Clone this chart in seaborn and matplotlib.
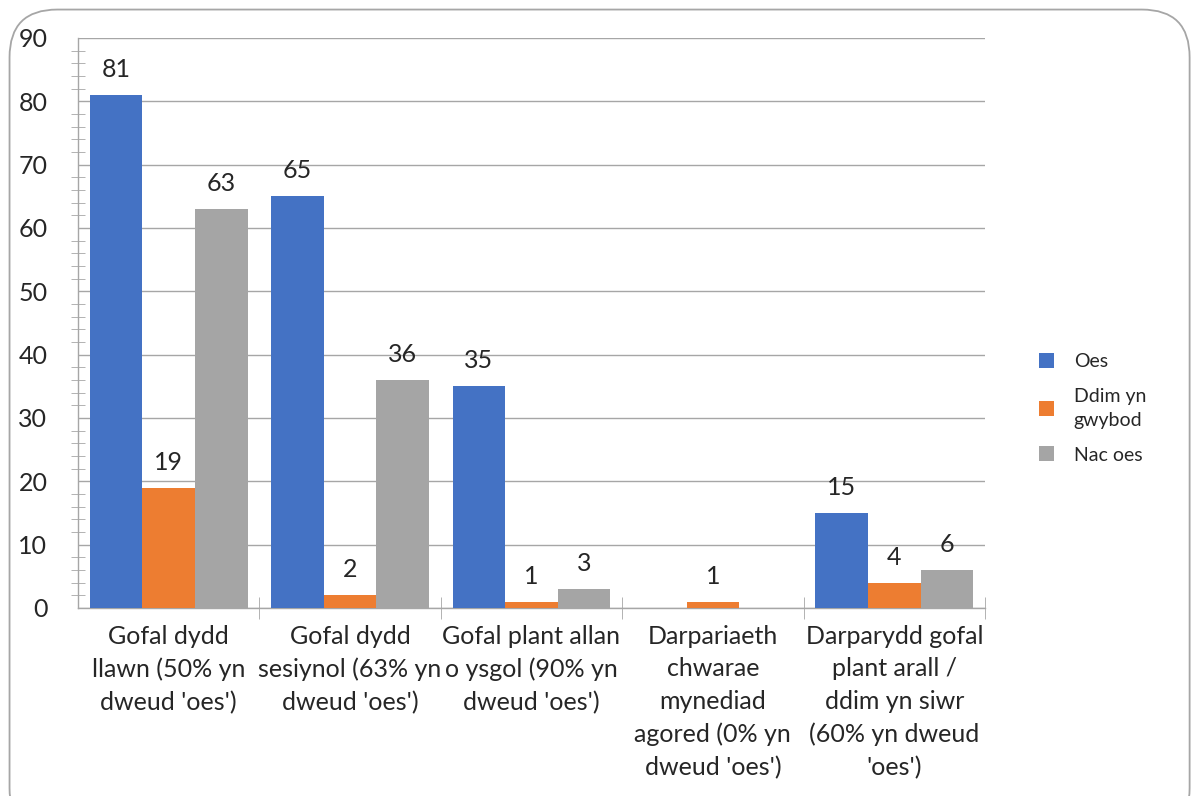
import pandas as pd
import matplotlib.pyplot as plt
import seaborn as sns
from matplotlib.patches import FancyBboxPatch
from matplotlib.ticker import MultipleLocator, FixedLocator

# Data
categories = [
    "Gofal dydd\nllawn (50% yn\ndweud 'oes')",
    "Gofal dydd\nsesiynol (63% yn\ndweud 'oes')",
    "Gofal plant allan\no ysgol (90% yn\ndweud 'oes')",
    "Darpariaeth\nchwarae\nmynediad\nagored (0% yn\ndweud 'oes')",
    "Darparydd gofal\nplant arall /\nddim yn siwr\n(60% yn dweud\n'oes')",
]
series = ["Oes", "Ddim yn\ngwybod", "Nac oes"]
oes = [81, 65, 35, 0, 15]
ddim = [19, 2, 1, 1, 4]
nac_oes = [63, 36, 3, 0, 6]
colors = ["#4472C4", "#ED7D31", "#A5A5A5"]

rows = []
for i, c in enumerate(categories):
    for s, vals in zip(series, [oes, ddim, nac_oes]):
        rows.append({"cat": c, "series": s, "value": vals[i]})
df = pd.DataFrame(rows)

sns.set_style("white")
plt.rcParams["font.family"] = ["Lato", "DejaVu Sans"]

fig = plt.figure(figsize=(11.92, 7.96), dpi=100)
ax = fig.add_axes([0.0654, 0.2362, 0.7609, 0.7161])

# rounded frame around the chart
frame = FancyBboxPatch((0.008, -0.05), 0.99, 1.038, boxstyle="round,pad=0,rounding_size=0.04",
                       transform=fig.transFigure, fill=False, edgecolor="#a6a6a6", linewidth=1.3,
                       mutation_aspect=1.5)
fig.patches.append(frame)

sns.barplot(data=df, x="cat", y="value", hue="series", palette=colors, width=0.87,
            gap=0, ax=ax, saturation=1, edgecolor="none", zorder=3)

ax.set_xlim(-0.5, len(categories) - 0.5)
ax.set_ylim(0, 90)
ax.yaxis.set_major_locator(MultipleLocator(10))
ax.yaxis.set_minor_locator(MultipleLocator(2))
ax.grid(axis="y", color="#a6a6a6", linewidth=1.0, zorder=0)
ax.set_axisbelow(True)

for side in ["top", "right"]:
    ax.spines[side].set_visible(False)
for side in ["left", "bottom"]:
    ax.spines[side].set_color("#a6a6a6")
    ax.spines[side].set_linewidth(1.0)

ax.tick_params(axis="y", which="major", direction="inout", length=16, color="#a6a6a6",
               labelsize=18, pad=14)
ax.tick_params(axis="y", which="minor", direction="inout", length=10, color="#a6a6a6", left=True)

ax.set_xticks(range(len(categories)))
ax.set_xticklabels(categories, fontsize=18, linespacing=1.5)
ax.tick_params(axis="x", which="major", length=0, pad=12)
ax.xaxis.set_minor_locator(FixedLocator([i + 0.5 for i in range(len(categories))]))
ax.tick_params(axis="x", which="minor", direction="inout", length=16, color="#a6a6a6", bottom=True)

ax.set_xlabel("")
ax.set_ylabel("")

# value labels
for container in ax.containers:
    labels = [f"{int(b.get_height())}" if b.get_height() > 0 else "" for b in container]
    ax.bar_label(container, labels=labels, padding=10, fontsize=18)

handles, labels = ax.get_legend_handles_labels()
leg = ax.legend(handles, labels, loc="center left", bbox_to_anchor=(1.04, 0.35), frameon=False,
                fontsize=14, handlelength=0.8, handleheight=0.8, handletextpad=1.0,
                labelspacing=0.9)
for t in leg.get_texts():
    t.set_linespacing(1.5)

fig.savefig("out.png", dpi=100)
